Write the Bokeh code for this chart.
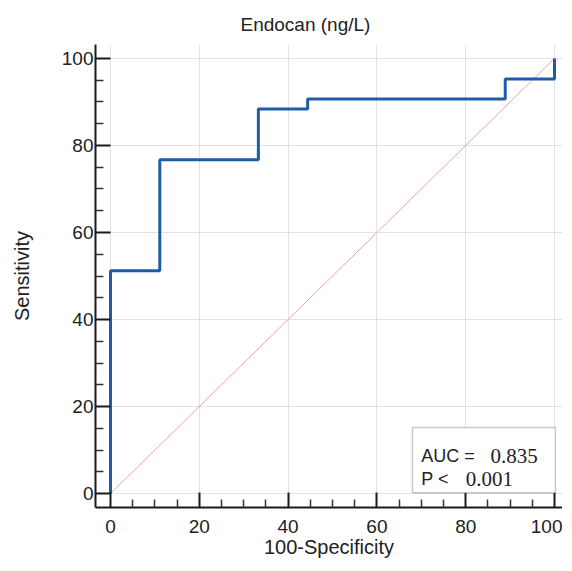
from bokeh.plotting import figure
from bokeh.models import Range1d, FixedTicker, BoxAnnotation, Label
from bokeh.embed import file_html
from bokeh.resources import INLINE

# ROC curve data (100-Specificity vs Sensitivity)
fpr = [0, 0, 11.1, 11.1, 33.3, 33.3, 44.4, 44.4, 88.9, 88.9, 100, 100]
tpr = [0, 51.2, 51.2, 76.7, 76.7, 88.4, 88.4, 90.7, 90.7, 95.3, 95.3, 100]
diag_x = [0, 100]
diag_y = [0, 100]
major_ticks = [0, 20, 40, 60, 80, 100]
minor_ticks = [5, 10, 15, 25, 30, 35, 45, 50, 55, 65, 70, 75, 85, 90, 95]
title_text = "Endocan (ng/L)"
x_label = "100-Specificity"
y_label = "Sensitivity"
auc_label = "AUC ="
auc_value = "0.835"
p_label = "P <"
p_value = "0.001"

SANS = "Liberation Sans"
SERIF = "Liberation Serif"

p = figure(width=562, height=562, output_backend="svg", toolbar_location=None,
           x_range=Range1d(-3.38, 101.8), y_range=Range1d(-3.2, 103.2),
           min_border_left=95, min_border_right=0, min_border_top=44, min_border_bottom=55)
p.outline_line_color = None
p.background_fill_color = "white"
p.border_fill_color = "white"

p.title.text = title_text
p.title.align = "left"
p.title.offset = 145
p.title.standoff = 19
p.title.text_font = SANS
p.title.text_font_size = "19px"
p.title.text_font_style = "normal"
p.title.text_color = "#222222"

for ax in (p.xaxis[0], p.yaxis[0]):
    ax.ticker = FixedTicker(ticks=major_ticks, minor_ticks=minor_ticks)
    ax.axis_line_color = "#1a1a1a"
    ax.axis_line_width = 2
    ax.major_tick_in = 15
    ax.major_tick_out = 0
    ax.major_tick_line_color = "#1a1a1a"
    ax.major_tick_line_width = 2
    ax.minor_tick_in = 8
    ax.minor_tick_out = 0
    ax.minor_tick_line_color = "#333333"
    ax.minor_tick_line_width = 1.5
    ax.major_label_text_font = SANS
    ax.major_label_text_font_size = "19px"
    ax.major_label_text_color = "#222222"
    ax.axis_label_text_font = SANS
    ax.axis_label_text_font_size = "20px"
    ax.axis_label_text_font_style = "normal"
    ax.axis_label_text_color = "#222222"

p.xaxis.axis_label = x_label
p.yaxis.axis_label = y_label
p.xaxis.major_label_standoff = 12
p.xaxis.axis_label_standoff = 0
p.yaxis.major_label_standoff = 2
p.yaxis.axis_label_standoff = 26

p.xgrid.ticker = FixedTicker(ticks=major_ticks)
p.ygrid.ticker = FixedTicker(ticks=major_ticks)
p.grid.grid_line_color = "#e3e3e3"
p.grid.grid_line_width = 1

p.line(diag_x, diag_y, line_color="#eba3a3", line_width=1)
p.line(fpr, tpr, line_color="#1f5ca6", line_width=3)

box = BoxAnnotation(left=68.0, right=100.2, bottom=0.2, top=15.2,
                    fill_color="white", fill_alpha=1.0,
                    line_color="#4a4a4a", line_width=1.5)
p.add_layout(box)

common = dict(text_baseline="alphabetic", text_align="left", text_color="#222222")
p.add_layout(Label(x=70.0, y=8.7, text=auc_label, text_font=SANS, text_font_size="18px", **common))
p.add_layout(Label(x=85.6, y=8.7, text=auc_value, text_font=SERIF, text_font_size="21px", **common))
p.add_layout(Label(x=70.0, y=3.45, text=p_label, text_font=SANS, text_font_size="18px", **common))
p.add_layout(Label(x=80.0, y=3.45, text=p_value, text_font=SERIF, text_font_size="21px", **common))

open("out.html", "w").write(file_html(p, INLINE))
